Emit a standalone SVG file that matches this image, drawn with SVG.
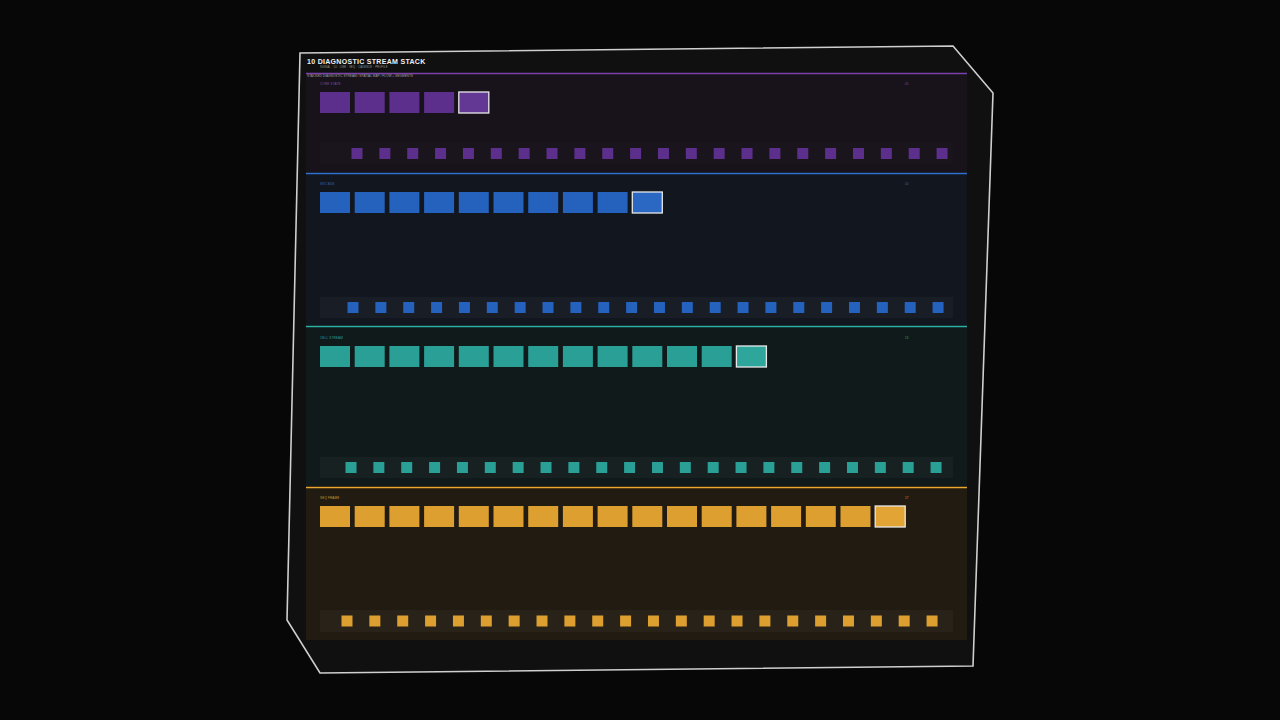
<svg xmlns="http://www.w3.org/2000/svg" xmlns:xlink="http://www.w3.org/1999/xlink" width="1280" height="720" viewBox="0 0 1280 720">
<style>
.t{font-family:"Liberation Sans",Arial,sans-serif}
.title{font-size:7px;font-weight:bold;fill:#f0f0f0;letter-spacing:0.3px}
.sub{font-size:2.6px;fill:#9a9a9a;letter-spacing:0.2px}
.cap{font-size:3.2px;fill:#a0a0a0}
.lbl{font-size:3px;letter-spacing:0.2px}
.hl{stroke:#e8e8e8;stroke-width:1.3}
.strip{fill:#ffffff;fill-opacity:0.03}
</style>
<defs>
<g id="row">
<rect x="0" y="0" width="11" height="11"/><rect x="27.86" y="0" width="11" height="11"/><rect x="55.72" y="0" width="11" height="11"/><rect x="83.58" y="0" width="11" height="11"/><rect x="111.44" y="0" width="11" height="11"/><rect x="139.3" y="0" width="11" height="11"/><rect x="167.16" y="0" width="11" height="11"/><rect x="195.02" y="0" width="11" height="11"/><rect x="222.88" y="0" width="11" height="11"/><rect x="250.74" y="0" width="11" height="11"/><rect x="278.6" y="0" width="11" height="11"/><rect x="306.46" y="0" width="11" height="11"/><rect x="334.32" y="0" width="11" height="11"/><rect x="362.18" y="0" width="11" height="11"/><rect x="390.04" y="0" width="11" height="11"/><rect x="417.9" y="0" width="11" height="11"/><rect x="445.76" y="0" width="11" height="11"/><rect x="473.62" y="0" width="11" height="11"/><rect x="501.48" y="0" width="11" height="11"/><rect x="529.34" y="0" width="11" height="11"/><rect x="557.2" y="0" width="11" height="11"/><rect x="585.06" y="0" width="11" height="11"/>
</g>
<g id="blk4">
<rect x="320" y="0" width="30" height="21"/><rect x="354.7" y="0" width="30" height="21"/><rect x="389.4" y="0" width="30" height="21"/><rect x="424.1" y="0" width="30" height="21"/>
</g>
<g id="blk8">
<use xlink:href="#blk4"/><use xlink:href="#blk4" x="138.8"/>
</g>
<g id="blk16">
<use xlink:href="#blk8"/><use xlink:href="#blk8" x="277.6"/>
</g>
</defs>
<rect width="1280" height="720" fill="#070707"/>
<g id="frame">
<polygon points="300,53 953,46 993,93 973,666 320,673 287,620" fill="#101010" stroke="#cfcfcf" stroke-width="1.6"/>
</g>
<g id="header">
<text class="t title" x="307" y="64">10  DIAGNOSTIC STREAM STACK</text>
<text class="t sub" x="320" y="67.5">SIGNAL · 10 · LINE · SEQ · CADENCE · PROFILE</text>
</g>
<g id="band1">
<rect x="306" y="73" width="661" height="99" fill="#18131a"/>
<rect x="320" y="143" width="633" height="21" fill="#ffffff" fill-opacity="0.012"/>
<line x1="306" y1="73.5" x2="967" y2="73.5" stroke="#7a40ac" stroke-width="1.6"/>
<text class="t cap" x="307" y="76.5">STACKED DIAGNOSTIC STREAM / SPATIAL MAP / FLOW + SEGMENTS</text>
<text class="t lbl" x="320" y="85" fill="#7a4fb0">CORE STATE</text>
<text class="t lbl" x="905" y="85" fill="#7a4fb0">05</text>
<g fill="#5c2f8c"><use xlink:href="#blk4" y="92"/><rect class="hl" x="458.8" y="92" width="30" height="21" fill="#633894"/></g>
<use xlink:href="#row" x="351.5" y="148" fill="#5c2f8c"/>
</g>
<g id="band2">
<rect x="306" y="174" width="661" height="151" fill="#12161f"/>
<rect class="strip" x="320" y="297" width="633" height="21"/>
<line x1="306" y1="173.5" x2="967" y2="173.5" stroke="#2f6fd0" stroke-width="1.6"/>
<text class="t lbl" x="320" y="185" fill="#3a70c0">SVC BUS</text>
<text class="t lbl" x="905" y="185" fill="#3a70c0">10</text>
<g fill="#2462be"><use xlink:href="#blk8" y="192"/><rect x="597.6" y="192" width="30" height="21"/><rect class="hl" x="632.3" y="192" width="30" height="21" fill="#2a68c4"/></g>
<use xlink:href="#row" x="347.5" y="302" fill="#2462be"/>
</g>
<g id="band3">
<rect x="306" y="327" width="661" height="159" fill="#111a1a"/>
<rect class="strip" x="320" y="457" width="633" height="21"/>
<line x1="306" y1="326.5" x2="967" y2="326.5" stroke="#2bb0a6" stroke-width="1.6"/>
<text class="t lbl" x="320" y="338.5" fill="#2aa198">CELL STREAM</text>
<text class="t lbl" x="905" y="338.5" fill="#2aa198">13</text>
<g fill="#2a9f96"><use xlink:href="#blk8" y="346"/><use xlink:href="#blk4" x="277.6" y="346"/><rect class="hl" x="736.4" y="346" width="30" height="21" fill="#2fa69c"/></g>
<use xlink:href="#row" x="345.5" y="462" fill="#2a9f96"/>
</g>
<g id="band4">
<rect x="306" y="488" width="661" height="152" fill="#221b11"/>
<rect class="strip" x="320" y="610" width="633" height="22"/>
<line x1="306" y1="487.5" x2="967" y2="487.5" stroke="#e8a830" stroke-width="1.6"/>
<text class="t lbl" x="320" y="498.5" fill="#d89a30">SEQ FRAME</text>
<text class="t lbl" x="905" y="498.5" fill="#d89a30">17</text>
<g fill="#dda030"><use xlink:href="#blk16" y="506"/><rect class="hl" x="875.2" y="506" width="30" height="21" fill="#e2a434"/></g>
<use xlink:href="#row" x="341.5" y="615.5" fill="#dda030"/>
</g>
</svg>
